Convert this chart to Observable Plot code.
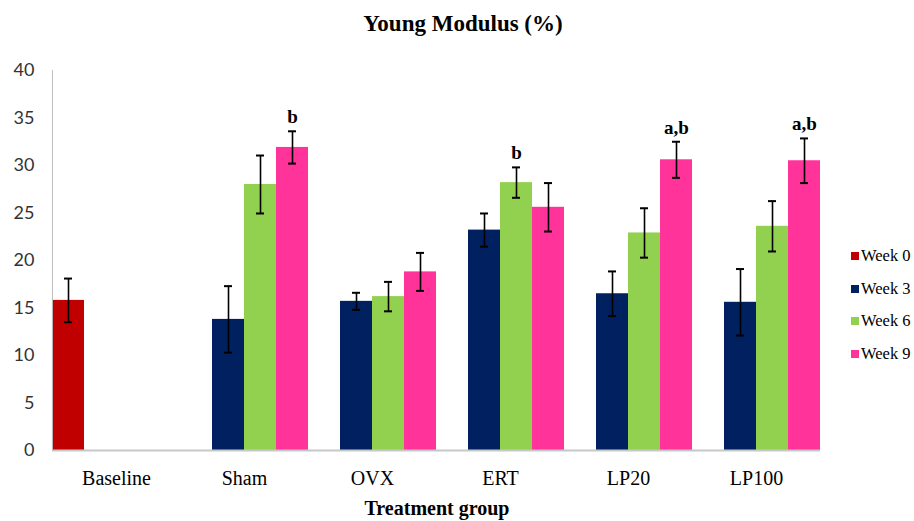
<!DOCTYPE html>
<html>
<head>
<meta charset="utf-8">
<script src="https://cdn.jsdelivr.net/npm/d3@7"></script>
<script src="https://cdn.jsdelivr.net/npm/@observablehq/plot@0.6"></script>
<style>
  html, body { margin: 0; padding: 0; background: #fff; }
  #wrap { position: relative; width: 914px; height: 521px; overflow: hidden; }
  #wrap svg { position: absolute; left: 0; top: 0; }
  .title { position: absolute; top: 11px; left: 463px; transform: translateX(-50%);
           font: bold 23px "Liberation Serif", "Times New Roman", serif; color: #000; white-space: nowrap; }
  .xtitle { position: absolute; top: 497px; left: 437px; transform: translateX(-50%);
            font: bold 20px "Liberation Serif", "Times New Roman", serif; color: #000; white-space: nowrap; }
  .legend { position: absolute; left: 851px; top: 240px; font: 16.5px "Liberation Serif", "Times New Roman", serif; color: #000; }
  .legend div { height: 32.5px; display: flex; align-items: center; white-space: nowrap; }
  .legend span.sw { display: inline-block; width: 8px; height: 8px; margin-right: 2px; }
</style>
</head>
<body>
<div id="wrap"></div>
<script>
// Treatment groups and measurement weeks
const groups = ["Baseline", "Sham", "OVX", "ERT", "LP20", "LP100"];
const weeks = ["Week 0", "Week 3", "Week 6", "Week 9"];
const weekColors = ["#c00000", "#002060", "#92d050", "#ff3399"];

// Young modulus (%) per group, one array per week (null = not measured)
const week0 = [15.8, null, null, null, null, null];
const week3 = [null, 13.8, 15.7, 23.2, 16.5, 15.6];
const week6 = [null, 28.0, 16.2, 28.2, 22.9, 23.6];
const week9 = [null, 31.9, 18.8, 25.6, 30.6, 30.5];

// Error bar half-widths
const week0Err = [2.3, null, null, null, null, null];
const week3Err = [null, 3.5, 0.9, 1.75, 2.35, 3.5];
const week6Err = [null, 3.05, 1.55, 1.6, 2.6, 2.65];
const week9Err = [null, 1.7, 2.0, 2.55, 1.9, 2.35];

// Significance letters
const week0Sig = ["", "", "", "", "", ""];
const week3Sig = ["", "", "", "", "", ""];
const week6Sig = ["", "", "", "b", "", ""];
const week9Sig = ["", "b", "", "", "a,b", "a,b"];

const yTicks = [0, 5, 10, 15, 20, 25, 30, 35, 40];

const series = [[week0, week0Err, week0Sig], [week3, week3Err, week3Sig],
                [week6, week6Err, week6Sig], [week9, week9Err, week9Sig]];
const rows = [];
series.forEach(([vals, errs, sigs], w) => {
  groups.forEach((g, i) => {
    if (vals[i] != null) rows.push({group: g, week: weeks[w], value: vals[i], err: errs[i], sig: sigs[i]});
  });
});

const W = 914, H = 521, ML = 50, MR = 93, MT = 70, MB = 71;
const bandW = (W - ML - MR) / groups.length / weeks.length;

const chart = Plot.plot({
  width: W,
  height: H,
  marginLeft: ML,
  marginRight: MR,
  marginTop: MT,
  marginBottom: MB,
  fx: {domain: groups, padding: 0, label: null},
  x: {domain: weeks, padding: 0, axis: null},
  y: {domain: [0, 40], ticks: yTicks, label: null},
  color: {domain: weeks, range: weekColors},
  style: {background: "#fff"},
  marks: [
    Plot.axisY({ticks: yTicks, tickSize: 0, tickPadding: 18, fontSize: 18,
                fontFamily: "Lato, 'Open Sans', sans-serif", fill: "#333", label: null}),
    Plot.axisFx({anchor: "bottom", tickSize: 0, tickPadding: 20, fontSize: 20,
                 fontFamily: "'Liberation Serif', 'Times New Roman', serif", fill: "#000", label: null}),
    Plot.barY(rows, {fx: "group", x: "week", y: "value", fill: "week"}),
    Plot.ruleY([0], {stroke: "#c8c8c8", strokeWidth: 2}),
    Plot.ruleX([{group: "Baseline", week: "Week 0"}],
               {fx: "group", x: "week", y1: 0, y2: 40, dx: -bandW / 2, stroke: "#bdbdbd", strokeWidth: 1}),
    Plot.ruleX(rows, {fx: "group", x: "week", y1: d => d.value - d.err, y2: d => d.value + d.err,
                      stroke: "#000", strokeWidth: 1.6}),
    Plot.tickY(rows, {fx: "group", x: "week", y: d => d.value + d.err, insetLeft: 12, insetRight: 12,
                      stroke: "#000", strokeWidth: 2}),
    Plot.tickY(rows, {fx: "group", x: "week", y: d => d.value - d.err, insetLeft: 12, insetRight: 12,
                      stroke: "#000", strokeWidth: 2}),
    Plot.text(rows.filter(d => d.sig), {fx: "group", x: "week", y: d => d.value + d.err, text: "sig",
                      lineAnchor: "bottom", dy: -8, fontSize: 19, fontWeight: "bold",
                      fontFamily: "'Liberation Serif', 'Times New Roman', serif", fill: "#000"})
  ]
});

const wrap = document.getElementById("wrap");
wrap.appendChild(chart);

const title = document.createElement("div");
title.className = "title";
title.textContent = "Young Modulus (%)";
wrap.appendChild(title);

const xt = document.createElement("div");
xt.className = "xtitle";
xt.textContent = "Treatment group";
wrap.appendChild(xt);

const legend = document.createElement("div");
legend.className = "legend";
weeks.forEach((w, i) => {
  const row = document.createElement("div");
  const sw = document.createElement("span");
  sw.className = "sw";
  sw.style.background = weekColors[i];
  row.appendChild(sw);
  row.appendChild(document.createTextNode(w));
  legend.appendChild(row);
});
wrap.appendChild(legend);
</script>
</body>
</html>
